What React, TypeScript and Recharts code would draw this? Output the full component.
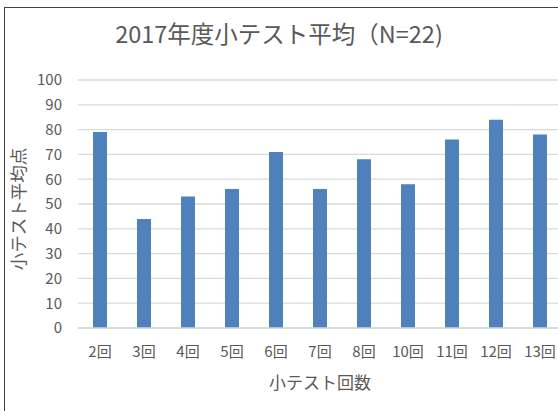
import { BarChart, Bar, XAxis, YAxis, CartesianGrid } from 'recharts'

const rounds = ['2回', '3回', '4回', '5回', '6回', '7回', '8回', '10回', '11回', '12回', '13回']
const averages = [79, 44, 53, 56, 71, 56, 68, 58, 76, 84, 78]
const yTicks = [0, 10, 20, 30, 40, 50, 60, 70, 80, 90, 100]

const FONT = '"Noto Sans CJK JP", "Noto Sans", sans-serif'
const TEXT = '#595959'

export default function App() {
  const data = rounds.map((r, i) => ({ round: r, avg: averages[i] }))
  return (
    <div style={{ position: 'absolute', left: 0, top: 0, width: 558, height: 411, overflow: 'hidden', background: '#fff', fontFamily: FONT }}>
      <div style={{ position: 'absolute', left: 4, top: 7, width: 600, height: 420, borderLeft: '1px solid #404040', borderTop: '1px solid #404040' }} />
      <div style={{ position: 'absolute', left: 0, width: 558, top: 22, textAlign: 'center', fontSize: 23.5, lineHeight: '23px', color: TEXT, whiteSpace: 'nowrap' }}>
        2017年度小テスト平均（N=22)
      </div>
      <div style={{ position: 'absolute', left: 0, top: 0 }}>
        <BarChart width={580} height={411} data={data} margin={{ top: 80, right: 18, bottom: 13, left: 13 }}>
          <CartesianGrid vertical={false} stroke="#d9d9d9" strokeWidth={1.3} />
          <XAxis
            dataKey="round"
            height={70}
            tickLine={false}
            tickSize={0}
            tickMargin={18}
            axisLine={{ stroke: '#d9d9d9', strokeWidth: 1.5 }}
            tick={{ fill: TEXT, fontSize: 15, fontFamily: FONT }}
            interval={0}
            label={{ value: '小テスト回数', position: 'insideBottom', offset: 9, fill: TEXT, fontSize: 17, fontFamily: FONT }}
          />
          <YAxis
            width={65}
            domain={[0, 100]}
            ticks={yTicks}
            axisLine={false}
            tickLine={false}
            tickSize={0}
            tickMargin={16}
            tick={{ fill: TEXT, fontSize: 15, fontFamily: FONT }}
            label={{ value: '小テスト平均点', angle: -90, position: 'insideLeft', offset: 6, dy: 5, fill: TEXT, fontSize: 17.5, fontFamily: FONT, style: { textAnchor: 'middle' } }}
          />
          <Bar dataKey="avg" fill="#4f81bd" barSize={14} isAnimationActive={false} />
        </BarChart>
      </div>
    </div>
  )
}
